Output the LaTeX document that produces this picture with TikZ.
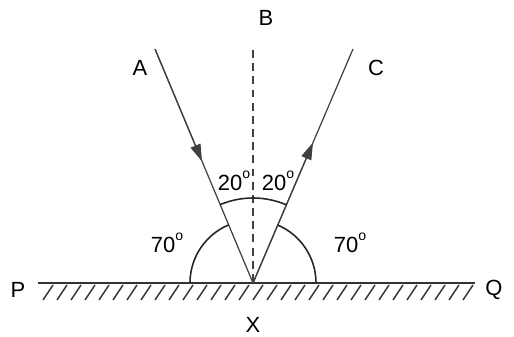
\documentclass[tikz,border=0pt]{standalone}
\usepackage{fontspec}
\setmainfont{Liberation Sans}
\usetikzlibrary{arrows.meta,calc}
\newcommand{\degsup}{\raisebox{1.0ex}{\fontsize{8}{8}\selectfont o}}
\tikzset{
  ray/.style={draw=black!75, line width=0.7pt},
  norm/.style={draw=black!75, line width=0.7pt, dash pattern=on 4.5pt off 3pt},
  ar/.style={-{Triangle[length=3.4mm,width=2.1mm]}, draw=black!75, line width=0.7pt},
  mirror/.style={draw=black!80, line width=1.4pt},
  hatch/.style={draw=black!80, line width=0.8pt},
  ang/.style={draw=black!85, line width=0.9pt},
  lbl/.style={font=\fontsize{12.5}{14}\selectfont, inner sep=0pt},
}

\begin{document}
\begin{tikzpicture}[x=0.02cm, y=0.02cm]
\useasboundingbox (0,0) rectangle (514,337);

% ============================ points ====================================
\coordinate (X) at (253,54);
\coordinate (A) at (155,288);
\coordinate (B) at (253,287);
\coordinate (C) at (353,288);
\coordinate (P) at (38,54);
\coordinate (Q) at (475,54);

% ============================ mirror and hatching =======================
\draw[mirror] (P) -- (Q);
\foreach \h in {43,57,...,465}
  \draw[hatch] (\h,37) -- (\h+10,52);

% ============================ rays and normal ===========================
\draw[norm] (B) -- (X);
\draw[ray] (A) -- (X);
\draw[ar] (A) -- ($(A)!0.48!(X)$);
\draw[ray] (X) -- (C);
\draw[ar] (X) -- ($(X)!0.60!(C)$);

% ============================ angle arcs ================================
\draw[ang] (X) ++(66.9:85) arc[start angle=66.9, end angle=112.7, radius=85];
\draw[ang] (X) ++(0:63) arc[start angle=0, end angle=66.9, radius=63];
\draw[ang] (X) ++(112.7:63) arc[start angle=112.7, end angle=180, radius=63];

% ============================ labels ====================================
\node[lbl] (lA) at (140,269) {A};
\node[lbl] (lB) at (266,319) {B};
\node[lbl] (lC) at (376,269) {C};
\node[lbl] (lP) at (18,47) {P};
\node[lbl] (lQ) at (494,47) {Q};
\node[lbl] (lX) at (253,12) {X};
\node[lbl] (a70L) at (167,94) {70\degsup};
\node[lbl] (a70R) at (350,94) {70\degsup};
\node[lbl] (a20L) at (234,156) {20\degsup};
\node[lbl] (a20R) at (278,156) {20\degsup};

\end{tikzpicture}
\end{document}
